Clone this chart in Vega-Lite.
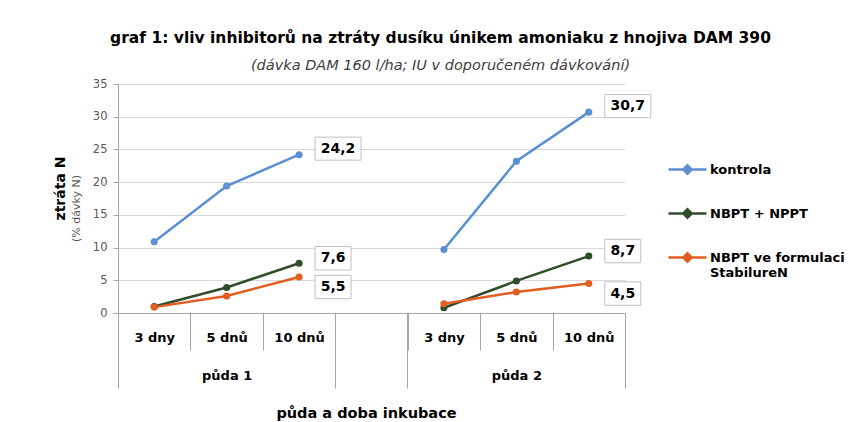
{
  "$schema": "https://vega.github.io/schema/vega-lite/v6.json",
  "width": 507,
  "height": 229,
  "autosize": {"type": "none"},
  "padding": {"left": 118, "top": 84, "right": 237, "bottom": 109},
  "background": "white",
  "config": {
    "font": "DejaVu Sans",
    "view": {"stroke": null},
    "locale": {"number": {"decimal": ",", "thousands": " ", "grouping": [3], "currency": ["", " Kč"]}}
  },
  "title": {
    "text": "graf 1: vliv inhibitorů na ztráty dusíku únikem amoniaku z hnojiva DAM 390",
    "subtitle": "(dávka DAM 160 l/ha; IU v doporučeném dávkování)",
    "anchor": "middle",
    "dx": 69,
    "offset": 6,
    "font": "DejaVu Sans",
    "fontSize": 15.5,
    "fontWeight": "bold",
    "color": "#000000",
    "subtitleFont": "DejaVu Sans",
    "subtitleFontSize": 14.5,
    "subtitleFontStyle": "italic",
    "subtitleColor": "#404040",
    "subtitlePadding": 12
  },
  "data": {
    "values": [
      {"serie": "kontrola", "puda": "půda 1", "doba": "3 dny", "dny": 3, "kat": "1_3", "hodnota": 10.9},
      {"serie": "kontrola", "puda": "půda 1", "doba": "5 dnů", "dny": 5, "kat": "1_5", "hodnota": 19.4},
      {"serie": "kontrola", "puda": "půda 1", "doba": "10 dnů", "dny": 10, "kat": "1_10", "hodnota": 24.2},
      {"serie": "kontrola", "puda": "půda 2", "doba": "3 dny", "dny": 3, "kat": "2_3", "hodnota": 9.7},
      {"serie": "kontrola", "puda": "půda 2", "doba": "5 dnů", "dny": 5, "kat": "2_5", "hodnota": 23.2},
      {"serie": "kontrola", "puda": "půda 2", "doba": "10 dnů", "dny": 10, "kat": "2_10", "hodnota": 30.7},
      {"serie": "NBPT + NPPT", "puda": "půda 1", "doba": "3 dny", "dny": 3, "kat": "1_3", "hodnota": 1.0},
      {"serie": "NBPT + NPPT", "puda": "půda 1", "doba": "5 dnů", "dny": 5, "kat": "1_5", "hodnota": 3.9},
      {"serie": "NBPT + NPPT", "puda": "půda 1", "doba": "10 dnů", "dny": 10, "kat": "1_10", "hodnota": 7.6},
      {"serie": "NBPT + NPPT", "puda": "půda 2", "doba": "3 dny", "dny": 3, "kat": "2_3", "hodnota": 0.8},
      {"serie": "NBPT + NPPT", "puda": "půda 2", "doba": "5 dnů", "dny": 5, "kat": "2_5", "hodnota": 4.9},
      {"serie": "NBPT + NPPT", "puda": "půda 2", "doba": "10 dnů", "dny": 10, "kat": "2_10", "hodnota": 8.7},
      {"serie": "NBPT ve formulaci StabilureN", "puda": "půda 1", "doba": "3 dny", "dny": 3, "kat": "1_3", "hodnota": 0.9},
      {"serie": "NBPT ve formulaci StabilureN", "puda": "půda 1", "doba": "5 dnů", "dny": 5, "kat": "1_5", "hodnota": 2.6},
      {"serie": "NBPT ve formulaci StabilureN", "puda": "půda 1", "doba": "10 dnů", "dny": 10, "kat": "1_10", "hodnota": 5.5},
      {"serie": "NBPT ve formulaci StabilureN", "puda": "půda 2", "doba": "3 dny", "dny": 3, "kat": "2_3", "hodnota": 1.4},
      {"serie": "NBPT ve formulaci StabilureN", "puda": "půda 2", "doba": "5 dnů", "dny": 5, "kat": "2_5", "hodnota": 3.2},
      {"serie": "NBPT ve formulaci StabilureN", "puda": "půda 2", "doba": "10 dnů", "dny": 10, "kat": "2_10", "hodnota": 4.5}
    ]
  },
  "resolve": {"scale": {"x": "independent", "y": "independent"}},
  "layer": [
    {
      "mark": {"type": "line", "strokeWidth": 2.5},
      "encoding": {
        "x": {
          "field": "kat", "type": "nominal",
          "scale": {"type": "band", "domain": ["1_3", "1_5", "1_10", "gap", "2_3", "2_5", "2_10"], "paddingInner": 0, "paddingOuter": 0},
          "axis": {
            "orient": "bottom",
            "title": "půda a doba inkubace",
            "titleFont": "DejaVu Sans", "titleFontSize": 14.5, "titleFontWeight": "bold", "titleColor": "#000000",
            "titleX": 248, "titleY": 100, "titleBaseline": "middle", "titleAlign": "center",
            "labelExpr": "datum.value == '1_5' ? ['5 dnů', 'půda 1'] : datum.value == '2_5' ? ['5 dnů', 'půda 2'] : (datum.value == '1_3' || datum.value == '2_3') ? '3 dny' : (datum.value == '1_10' || datum.value == '2_10') ? '10 dnů' : ''",
            "labelFont": "DejaVu Sans", "labelFontSize": 13, "labelFontWeight": "bold", "labelColor": "#000000",
            "labelAngle": 0, "labelBaseline": "top", "labelLineHeight": 38, "labelPadding": -19,
            "labelOverlap": false, "labelBound": false, "labelFlush": false,
            "tickBand": "extent", "tickSize": 37, "tickColor": "#a6a6a6", "tickWidth": 1,
            "domainColor": "#a6a6a6", "grid": false
          }
        },
        "y": {
          "field": "hodnota", "type": "quantitative",
          "scale": {"domain": [0, 35], "nice": false, "zero": true},
          "axis": {
            "orient": "left",
            "values": [0, 5, 10, 15, 20, 25, 30, 35],
            "title": "ztráta N",
            "titleFont": "DejaVu Sans", "titleFontSize": 14, "titleFontWeight": "bold", "titleColor": "#000000",
            "titleY": 104, "titlePadding": 25,
            "labelFont": "DejaVu Sans", "labelFontSize": 11.5, "labelColor": "#595959", "labelPadding": 6,
            "tickSize": 5, "tickColor": "#a6a6a6",
            "domainColor": "#a6a6a6",
            "grid": true, "gridColor": "#d9d9d9", "gridWidth": 1
          }
        },
        "color": {
          "field": "serie", "type": "nominal",
          "scale": {"domain": ["kontrola", "NBPT + NPPT", "NBPT ve formulaci StabilureN"], "range": ["#5b8fd1", "#2e4d28", "#e35d22"]},
          "legend": {
            "orient": "none", "legendX": 549, "legendY": 65, "title": null, "padding": 0,
            "symbolType": "M-1,0L1,0M-0.22,0L0,-0.22L0.22,0L0,0.22Z",
            "symbolSize": 1444, "symbolStrokeWidth": 2.5,
            "labelFont": "DejaVu Sans", "labelFontSize": 13, "labelFontWeight": "bold", "labelColor": "#000000",
            "labelExpr": "datum.label == 'NBPT ve formulaci StabilureN' ? ['NBPT ve formulaci', 'StabilureN'] : datum.label",
            "labelLineHeight": 22, "labelOffset": 2, "rowPadding": 14, "labelLimit": 300
          }
        },
        "detail": {"field": "puda"},
        "order": {"field": "dny", "type": "quantitative"}
      }
    },
    {
      "mark": {"type": "point", "filled": true, "size": 50, "opacity": 1},
      "encoding": {
        "x": {
          "field": "kat", "type": "nominal",
          "scale": {"type": "band", "domain": ["1_3", "1_5", "1_10", "gap", "2_3", "2_5", "2_10"], "paddingInner": 0, "paddingOuter": 0},
          "axis": {"orient": "bottom", "values": ["1_3", "gap", "2_3"], "bandPosition": 0, "tickSize": 75, "tickColor": "#a6a6a6", "labels": false, "domain": false, "grid": false, "title": null}
        },
        "y": {
          "field": "hodnota", "type": "quantitative",
          "scale": {"domain": [0, 35], "nice": false, "zero": true},
          "axis": {"orient": "left", "title": "(% dávky N)", "titleFont": "DejaVu Sans", "titleFontSize": 11, "titleFontWeight": "normal", "titleColor": "#595959", "titleY": 124, "titlePadding": 37, "labels": false, "ticks": false, "domain": false, "grid": false}
        },
        "color": {"field": "serie", "type": "nominal", "legend": null}
      }
    },
    {
      "transform": [{"filter": "datum.serie == 'kontrola' && datum.dny == 10"}],
      "mark": {"type": "point", "shape": "M-1,-0.5H1V0.5H-1Z", "size": 2116, "filled": true, "fill": "white", "stroke": "#bfbfbf", "strokeWidth": 1, "opacity": 1, "xOffset": 39, "yOffset": -6},
      "encoding": {
        "x": {
          "field": "kat", "type": "nominal",
          "scale": {"type": "band", "domain": ["1_3", "1_5", "1_10", "gap", "2_3", "2_5", "2_10"], "paddingInner": 0, "paddingOuter": 0},
          "axis": {"orient": "bottom", "values": ["2_10"], "bandPosition": 1, "tickSize": 75, "tickColor": "#a6a6a6", "labels": false, "domain": false, "grid": false, "title": null}
        },
        "y": {"field": "hodnota", "type": "quantitative", "scale": {"domain": [0, 35], "nice": false, "zero": true}, "axis": null}
      }
    },
    {
      "transform": [{"filter": "datum.serie == 'NBPT + NPPT' && datum.dny == 10"}],
      "mark": {"type": "point", "shape": "M-1,-0.65H1V0.65H-1Z", "size": 1296, "filled": true, "fill": "white", "stroke": "#bfbfbf", "strokeWidth": 1, "opacity": 1, "xOffset": 34, "yOffset": -5},
      "encoding": {
        "x": {"field": "kat", "type": "nominal", "scale": {"type": "band", "domain": ["1_3", "1_5", "1_10", "gap", "2_3", "2_5", "2_10"], "paddingInner": 0, "paddingOuter": 0}, "axis": null},
        "y": {"field": "hodnota", "type": "quantitative", "scale": {"domain": [0, 35], "nice": false, "zero": true}, "axis": null}
      }
    },
    {
      "transform": [{"filter": "datum.serie == 'NBPT ve formulaci StabilureN' && datum.dny == 10"}],
      "mark": {"type": "point", "shape": "M-1,-0.65H1V0.65H-1Z", "size": 1296, "filled": true, "fill": "white", "stroke": "#bfbfbf", "strokeWidth": 1, "opacity": 1, "xOffset": 34, "yOffset": 10},
      "encoding": {
        "x": {"field": "kat", "type": "nominal", "scale": {"type": "band", "domain": ["1_3", "1_5", "1_10", "gap", "2_3", "2_5", "2_10"], "paddingInner": 0, "paddingOuter": 0}, "axis": null},
        "y": {"field": "hodnota", "type": "quantitative", "scale": {"domain": [0, 35], "nice": false, "zero": true}, "axis": null}
      }
    },
    {
      "transform": [{"filter": "datum.serie == 'kontrola' && datum.dny == 10"}],
      "mark": {"type": "text", "font": "DejaVu Sans", "fontSize": 14, "fontWeight": "bold", "color": "#000000", "dx": 39, "dy": -6, "align": "center", "baseline": "middle"},
      "encoding": {
        "x": {"field": "kat", "type": "nominal", "scale": {"type": "band", "domain": ["1_3", "1_5", "1_10", "gap", "2_3", "2_5", "2_10"], "paddingInner": 0, "paddingOuter": 0}, "axis": null},
        "y": {"field": "hodnota", "type": "quantitative", "scale": {"domain": [0, 35], "nice": false, "zero": true}, "axis": null},
        "text": {"field": "hodnota", "type": "quantitative", "format": ".1f"}
      }
    },
    {
      "transform": [{"filter": "datum.serie == 'NBPT + NPPT' && datum.dny == 10"}],
      "mark": {"type": "text", "font": "DejaVu Sans", "fontSize": 14, "fontWeight": "bold", "color": "#000000", "dx": 34, "dy": -5, "align": "center", "baseline": "middle"},
      "encoding": {
        "x": {"field": "kat", "type": "nominal", "scale": {"type": "band", "domain": ["1_3", "1_5", "1_10", "gap", "2_3", "2_5", "2_10"], "paddingInner": 0, "paddingOuter": 0}, "axis": null},
        "y": {"field": "hodnota", "type": "quantitative", "scale": {"domain": [0, 35], "nice": false, "zero": true}, "axis": null},
        "text": {"field": "hodnota", "type": "quantitative", "format": ".1f"}
      }
    },
    {
      "transform": [{"filter": "datum.serie == 'NBPT ve formulaci StabilureN' && datum.dny == 10"}],
      "mark": {"type": "text", "font": "DejaVu Sans", "fontSize": 14, "fontWeight": "bold", "color": "#000000", "dx": 34, "dy": 10, "align": "center", "baseline": "middle"},
      "encoding": {
        "x": {"field": "kat", "type": "nominal", "scale": {"type": "band", "domain": ["1_3", "1_5", "1_10", "gap", "2_3", "2_5", "2_10"], "paddingInner": 0, "paddingOuter": 0}, "axis": null},
        "y": {"field": "hodnota", "type": "quantitative", "scale": {"domain": [0, 35], "nice": false, "zero": true}, "axis": null},
        "text": {"field": "hodnota", "type": "quantitative", "format": ".1f"}
      }
    }
  ]
}
